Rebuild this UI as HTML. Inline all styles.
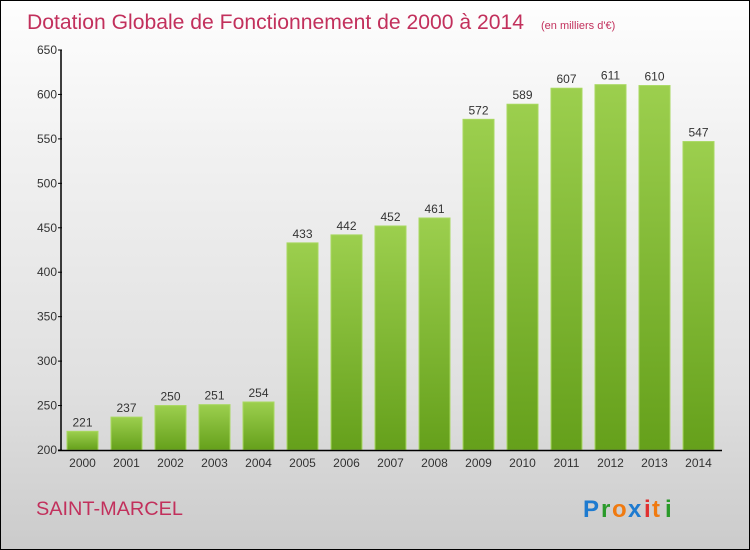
<!DOCTYPE html>
<html><head><meta charset="utf-8"><style>
body{margin:0;}
#c{position:relative;width:748px;height:548px;border:1px solid #000;background:linear-gradient(#fefefe,#f2f2f2 25%,#e0e0e0 70%,#cbcbcb);font-family:"Liberation Sans",sans-serif;overflow:hidden;}
</style></head><body>
<div id="c">
<svg width="748" height="548">
<defs><linearGradient id="g" x1="0" y1="0" x2="0" y2="1"><stop offset="0" stop-color="#9ccf4e"/><stop offset="1" stop-color="#65a01b"/></linearGradient></defs>
<text x="26" y="28" font-size="21" fill="#c2305c" textLength="497" lengthAdjust="spacingAndGlyphs">Dotation Globale de Fonctionnement de 2000 à 2014</text>
<text x="540" y="28" font-size="11" fill="#c2305c">(en milliers d'€)</text>
<g id="plot"></g>
<text x="35" y="514" font-size="19" fill="#c2305c" textLength="147" lengthAdjust="spacingAndGlyphs">SAINT-MARCEL</text>
<g font-size="24" font-weight="bold">
<text x="582" y="516" fill="#1e7bd0">P</text><text x="600" y="516" fill="#2a9a2a">r</text><text x="611" y="516" fill="#f07a10">o</text><text x="627" y="516" fill="#1e7bd0">x</text><text x="643" y="516" fill="#e03030">i</text><text x="651" y="516" fill="#f07a10">t</text><text x="664" y="516" fill="#2a9a2a">i</text></g>
</svg></div>
<script>
const years=["2000","2001","2002","2003","2004","2005","2006","2007","2008","2009","2010","2011","2012","2013","2014"];
const values=[221,237,250,251,254,433,442,452,461,572,589,607,611,610,547];
const yTicks=[200,250,300,350,400,450,500,550,600,650];
const NS="http://www.w3.org/2000/svg";
const g=document.getElementById('plot');
const y0=449,y1=49,vmin=200,vmax=650;
function Y(v){return y0-(v-vmin)/(vmax-vmin)*(y0-y1);}
function X(i){return 81.5+i*44;}
function mk(t,a){const e=document.createElementNS(NS,t);for(const k in a)e.setAttribute(k,a[k]);g.appendChild(e);return e;}
yTicks.forEach(v=>{
 const l=mk('line',{x1:57,x2:61,y1:Y(v),y2:Y(v),stroke:'#000'});
 
 
 const t=mk('text',{x:56,y:Y(v)+4,'text-anchor':'end','font-size':12,fill:'#333'});t.textContent=v;
 
 
});
values.forEach((v,i)=>{
 const r=mk('rect',{x:X(i)-15.5,y:Y(v),width:31,height:y0-Y(v),fill:'url(#g)',stroke:'#a8d860','stroke-width':1});
 
 
 const t=mk('text',{x:X(i),y:Y(v)-5,'text-anchor':'middle','font-size':12,fill:'#333'});t.textContent=v;
 
 
 const xl=mk('text',{x:X(i),y:y0+17,'text-anchor':'middle','font-size':12,fill:'#333'});xl.textContent=years[i];
 
 
});
const ya=mk('line',{x1:60,x2:60,y1:y1,y2:y0+1,stroke:'#000','stroke-width':1.5});


const xa=mk('line',{x1:57,x2:721,y1:y0+0.5,y2:y0+0.5,stroke:'#000','stroke-width':1.5});


</script>
</body></html>
